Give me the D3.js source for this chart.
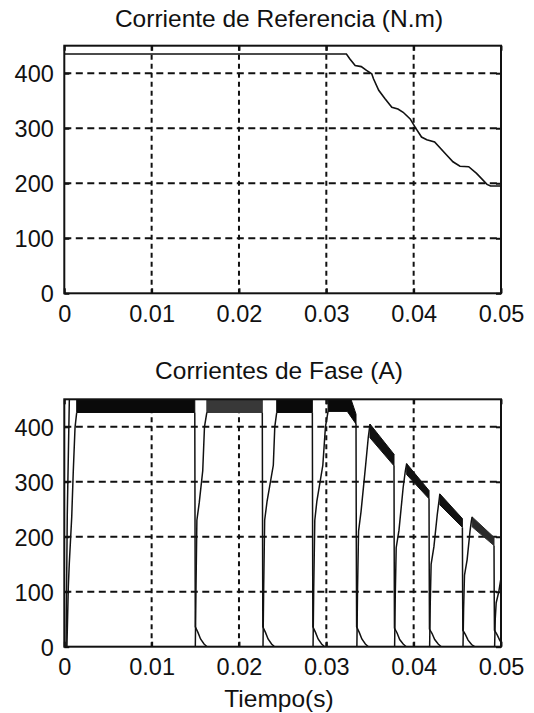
<!DOCTYPE html>
<html>
<head>
<meta charset="utf-8">
<script src="https://cdn.jsdelivr.net/npm/d3@7"></script>
<style>
body { margin: 0; background: #fff; }
text { font-family: "Liberation Sans", Arial, sans-serif; fill: #111; }
</style>
</head>
<body>
<svg id="chart" width="534" height="713"></svg>
<script>
// axis ticks
var xTicks = [0, 0.01, 0.02, 0.03, 0.04, 0.05];
var xTickLabels = ["0", "0.01", "0.02", "0.03", "0.04", "0.05"];
var yTicks = [0, 100, 200, 300, 400];
var yTickLabels = ["0", "100", "200", "300", "400"];

// top: reference signal
var refT = [0, 0.0323, 0.0327, 0.0333, 0.0340, 0.0346, 0.0352, 0.0354, 0.0360, 0.0367, 0.0375, 0.0382,
            0.0388, 0.0396, 0.0402, 0.0409, 0.0415, 0.0424, 0.0438, 0.0445, 0.0453, 0.0463, 0.0472,
            0.0484, 0.0488, 0.0500];
var refI = [435, 435, 426, 414, 412, 405, 399, 390, 369, 354, 338, 335,
            329, 317, 301, 284, 279, 275, 251, 239, 231, 230, 218,
            198, 195, 195];

// bottom: phase currents, read as rising edges, chopping bands and falling edges
// extra steep edge at t=0
var startEdge = [[0.0002, 0], [0.00034, 240], [0.0006, 470]];

var riseEdges = [
  [[0.0003, 0], [0.00046, 109], [0.00057, 151], [0.00085, 236], [0.00103, 320], [0.00123, 399], [0.00142, 426]],
  [[0.01500, 0], [0.01508, 110], [0.01518, 230], [0.01545, 262], [0.01585, 320], [0.01605, 400], [0.01632, 426]],
  [[0.02275, 0], [0.02283, 110], [0.02294, 230], [0.02322, 265], [0.02393, 330], [0.02410, 400], [0.02432, 426]],
  [[0.02848, 0], [0.02856, 110], [0.02868, 230], [0.02892, 265], [0.02960, 330], [0.02990, 400], [0.03020, 428]],
  [[0.03350, 0], [0.03357, 100], [0.03369, 210], [0.03397, 245], [0.03450, 330], [0.03480, 380], [0.03500, 405]],
  [[0.03782, 0], [0.03789, 90], [0.03800, 180], [0.03832, 212], [0.03880, 290], [0.03905, 320], [0.03920, 333]],
  [[0.04183, 0], [0.04190, 80], [0.04200, 150], [0.04232, 182], [0.04270, 240], [0.04290, 265], [0.04300, 278]],
  [[0.04565, 0], [0.04572, 70], [0.04582, 130], [0.04612, 158], [0.04645, 210], [0.04660, 228], [0.04670, 236]],
  [[0.04927, 0], [0.04934, 50], [0.04945, 80], [0.04975, 100], [0.05000, 125]]
];

// [t, low, high] of the hysteresis band
var bands = [
  [[0.00142, 426, 470], [0.01494, 426, 470]],
  [[0.01632, 426, 470], [0.02267, 426, 470]],
  [[0.02432, 426, 470], [0.02840, 426, 470]],
  [[0.03020, 428, 470], [0.03240, 428, 470], [0.03340, 405, 423]],
  [[0.03500, 380, 405], [0.03775, 329, 350]],
  [[0.03920, 313, 333], [0.04176, 269, 284]],
  [[0.04300, 258, 278], [0.04558, 217, 233]],
  [[0.04670, 218, 236], [0.04920, 184, 199]]
];

var fallEdges = [
  [[0.01494, 426], [0.01497, 200], [0.01500, 36], [0.01530, 26], [0.01560, 14], [0.01600, 5], [0.01635, 0]],
  [[0.02267, 426], [0.02270, 200], [0.02273, 36], [0.02303, 26], [0.02333, 14], [0.02373, 5], [0.02408, 0]],
  [[0.02840, 426], [0.02843, 200], [0.02846, 36], [0.02876, 26], [0.02906, 14], [0.02946, 5], [0.02981, 0]],
  [[0.03340, 405], [0.03343, 200], [0.03347, 36], [0.03377, 26], [0.03407, 14], [0.03447, 5], [0.03482, 0]],
  [[0.03775, 329], [0.03777, 180], [0.03780, 34], [0.03810, 25], [0.03840, 13], [0.03880, 5], [0.03915, 0]],
  [[0.04176, 269], [0.04178, 150], [0.04181, 32], [0.04211, 24], [0.04241, 13], [0.04281, 5], [0.04316, 0]],
  [[0.04558, 217], [0.04560, 120], [0.04563, 30], [0.04593, 22], [0.04623, 12], [0.04663, 4], [0.04698, 0]],
  [[0.04920, 184], [0.04922, 100], [0.04925, 30], [0.04955, 22], [0.04985, 12], [0.05000, 8]]
];

var bandShade = ["#0a0a0a", "#383838", "#0a0a0a", "#0a0a0a", "#111", "#111", "#111", "#2a2a2a"];

var svg = d3.select("#chart");
var left = 64.3, right = 501;

function makePanel(top, bottom, title, titleY, clipId) {
    var x = d3.scaleLinear().domain([0, 0.05]).range([left, right]);
    var y = d3.scaleLinear().domain([0, 450]).range([bottom, top]);
    var g = svg.append("g");

    // grid
    g.selectAll("line.hgrid").data(yTicks.slice(1)).enter().append("line")
        .attr("x1", left).attr("x2", right)
        .attr("y1", function(d) { return y(d); }).attr("y2", function(d) { return y(d); })
        .attr("stroke", "#111").attr("stroke-width", 2).attr("stroke-dasharray", "7,4.5");
    g.selectAll("line.vgrid").data(xTicks.slice(1, -1)).enter().append("line")
        .attr("y1", top).attr("y2", bottom)
        .attr("x1", function(d) { return x(d); }).attr("x2", function(d) { return x(d); })
        .attr("stroke", "#111").attr("stroke-width", 2).attr("stroke-dasharray", "5,4");

    // axes with inner ticks
    g.append("g").attr("transform", "translate(0," + bottom + ")")
        .call(d3.axisBottom(x).tickValues(xTicks).tickSize(-5).tickPadding(12)
            .tickFormat(function(d, i) { return xTickLabels[i]; }));
    var ay = g.append("g").attr("transform", "translate(" + left + ",0)")
        .call(d3.axisLeft(y).tickValues(yTicks).tickSize(-5).tickPadding(10.5)
            .tickFormat(function(d, i) { return yTickLabels[i]; }));
    g.append("g").attr("transform", "translate(0," + top + ")")
        .call(d3.axisTop(x).tickValues(xTicks).tickSize(-5).tickFormat(""));
    g.append("g").attr("transform", "translate(" + right + ",0)")
        .call(d3.axisRight(y).tickValues(yTicks).tickSize(-5).tickFormat(""));
    g.selectAll(".domain").remove();
    g.selectAll(".tick line").attr("stroke", "#111").attr("stroke-width", 2);
    g.selectAll(".tick text").attr("font-size", 23.5).attr("fill", "#111")
        .style("font-family", "'Liberation Sans', Arial, sans-serif");
    ay.selectAll(".tick text").attr("dy", "0.36em");

    svg.append("clipPath").attr("id", clipId).append("rect")
        .attr("x", left).attr("y", top).attr("width", right - left).attr("height", bottom - top);

    svg.append("text").attr("x", 279).attr("y", titleY).attr("text-anchor", "middle")
        .attr("font-size", 24.5).text(title);

    return { x: x, y: y, g: g, top: top, bottom: bottom, clip: clipId };
}

function drawBorder(p) {
    svg.append("rect").attr("x", left).attr("y", p.top)
        .attr("width", right - left).attr("height", p.bottom - p.top)
        .attr("fill", "none").attr("stroke", "#111").attr("stroke-width", 2);
}

// top panel
var p1 = makePanel(45.7, 293.3, "Corriente de Referencia (N.m)", 27, "clipTop");
var refLine = d3.line().x(function(d, i) { return p1.x(refT[i]); }).y(function(d) { return p1.y(d); });
svg.append("path").datum(refI).attr("clip-path", "url(#clipTop)")
    .attr("d", refLine).attr("fill", "none").attr("stroke", "#111").attr("stroke-width", 1.6);
drawBorder(p1);

// bottom panel
var p2 = makePanel(399.3, 646.7, "Corrientes de Fase (A)", 379, "clipBot");
var dataG = svg.append("g").attr("clip-path", "url(#clipBot)");
var edge = d3.line().x(function(d) { return p2.x(d[0]); }).y(function(d) { return p2.y(d[1]); });
var band = d3.area().x(function(d) { return p2.x(d[0]); })
    .y0(function(d) { return p2.y(d[1]); }).y1(function(d) { return p2.y(d[2]); });

dataG.selectAll("path.band").data(bands).enter().append("path")
    .attr("d", band).attr("fill", function(d, i) { return bandShade[i]; })
    .attr("stroke", function(d, i) { return bandShade[i]; }).attr("stroke-width", 1);

dataG.selectAll("path.rise").data(riseEdges.concat([startEdge])).enter().append("path")
    .attr("d", edge).attr("fill", "none").attr("stroke", "#111").attr("stroke-width", 1.5);
dataG.selectAll("path.fall").data(fallEdges).enter().append("path")
    .attr("d", edge).attr("fill", "none").attr("stroke", "#111").attr("stroke-width", 1.5);
drawBorder(p2);

svg.append("text").attr("x", 279).attr("y", 707).attr("text-anchor", "middle")
    .attr("font-size", 24.5).text("Tiempo(s)");
</script>
</body>
</html>
